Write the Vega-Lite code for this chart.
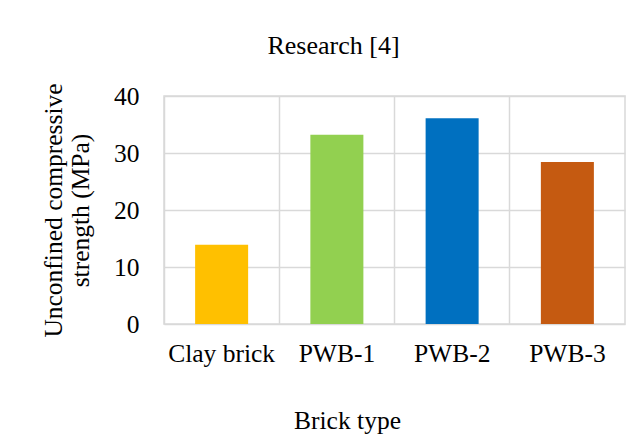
{
  "$schema": "https://vega.github.io/schema/vega-lite/v6.json",
  "autosize": {"type": "none"},
  "padding": {"left": 164, "top": 96, "right": 16, "bottom": 114},
  "width": 461,
  "height": 228,
  "background": "white",
  "title": {
    "text": "Research [4]",
    "anchor": "middle",
    "font": "Liberation Serif",
    "fontSize": 26,
    "fontWeight": "normal",
    "color": "#000000",
    "dx": -61,
    "offset": 24
  },
  "data": {
    "values": [
      {"brick": "Clay brick", "strength": 13.9},
      {"brick": "PWB-1", "strength": 33.2},
      {"brick": "PWB-2", "strength": 36.1},
      {"brick": "PWB-3", "strength": 28.4}
    ]
  },
  "mark": {"type": "bar", "width": {"band": 0.46}},
  "encoding": {
    "x": {
      "field": "brick",
      "type": "nominal",
      "sort": null,
      "scale": {"paddingInner": 0, "paddingOuter": 0},
      "axis": {
        "title": "Brick type",
        "labelAngle": 0,
        "grid": true,
        "bandPosition": 0,
        "ticks": false,
        "domain": false,
        "labelPadding": 17,
        "titlePadding": 42,
        "titleX": 183
      }
    },
    "y": {
      "field": "strength",
      "type": "quantitative",
      "scale": {"domain": [0, 40], "nice": false},
      "axis": {
        "title": ["Unconfined compressive", "strength (MPa)"],
        "values": [0, 10, 20, 30, 40],
        "ticks": false,
        "domain": false,
        "labelPadding": 25,
        "titlePadding": 20,
        "titleLineHeight": 27
      }
    },
    "color": {
      "field": "brick",
      "type": "nominal",
      "sort": null,
      "scale": {
        "domain": ["Clay brick", "PWB-1", "PWB-2", "PWB-3"],
        "range": ["#FFC000", "#92D050", "#0070C0", "#C55A11"]
      },
      "legend": null
    }
  },
  "config": {
    "view": {"stroke": "#d9d9d9", "strokeWidth": 1.5},
    "style": {
      "group-title": {
        "font": "Liberation Serif",
        "fontSize": 26,
        "fontWeight": "normal",
        "fill": "#000000"
      }
    },
    "axis": {
      "gridColor": "#d9d9d9",
      "gridWidth": 1.5,
      "gridOpacity": 1,
      "labelFont": "Liberation Serif",
      "labelFontSize": 25.5,
      "labelColor": "#000000",
      "titleFont": "Liberation Serif",
      "titleFontSize": 25.5,
      "titleFontWeight": "normal",
      "titleColor": "#000000"
    }
  }
}
